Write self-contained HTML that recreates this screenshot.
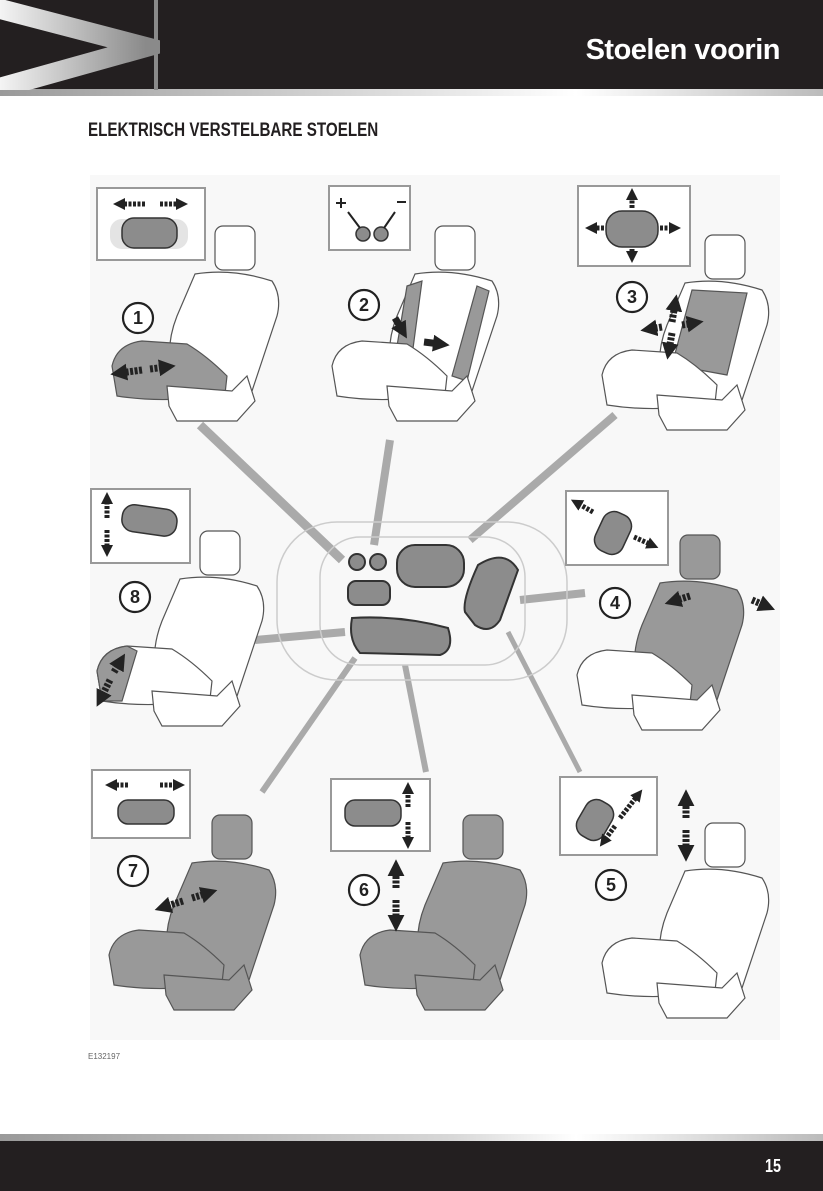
<!DOCTYPE html>
<html><head><meta charset="utf-8"><style>
html,body{margin:0;padding:0;background:#fff}
body{width:823px;height:1191px;position:relative;overflow:hidden;font-family:"Liberation Sans",sans-serif}
.abs{position:absolute}
</style></head><body>
<div class="abs" style="left:0;top:0;width:823px;height:89px;background:#231f20"></div>
<div class="abs" style="left:0;top:89px;width:823px;height:7px;background:linear-gradient(90deg,#9a9a9a,#e8e8e8 55%,#fff 70%,#bbb)"></div>
<svg class="abs" style="left:0;top:0" width="160" height="90">
<defs><linearGradient id="cg" x1="0" x2="1"><stop offset="0" stop-color="#fff"/><stop offset="1" stop-color="#8a8a8a"/></linearGradient></defs>
<polyline points="-15,5 146,47 -15,92" fill="none" stroke="url(#cg)" stroke-width="20"/>
<rect x="154" y="0" width="4" height="90" fill="#8a8a8a"/>
</svg>
<div class="abs" style="right:43px;top:34px;color:#fff;font-size:29px;font-weight:bold;letter-spacing:-0.5px">Stoelen voorin</div>
<div class="abs" style="left:88px;top:120px;font-size:19px;font-weight:bold;color:#231f20;transform:scaleX(0.8);transform-origin:left">ELEKTRISCH VERSTELBARE STOELEN</div>

<svg class="abs" style="left:0;top:0" width="823" height="1191">
<defs>
<marker id="ah" markerWidth="2.4" markerHeight="2.4" refX="1" refY="1.2" orient="auto" markerUnits="strokeWidth"><path d="M0,0 L2.4,1.2 L0,2.4 Z" fill="#222"/></marker>
<g id="bk"><path d="M88,48 Q125,42 165,55 Q175,70 170,90 L145,165 Q130,180 115,172 L65,150 Q58,120 70,90 Z"/></g>
<g id="cu"><path d="M5,140 Q10,118 35,115 L80,118 Q100,130 120,150 L118,168 Q60,178 10,170 Z"/></g>
<g id="ba"><path d="M60,160 L125,165 L140,150 L148,175 L130,195 L70,195 L62,180 Z"/></g>
<g id="hd"><rect x="108" y="0" width="40" height="44" rx="8"/></g>
</defs>
<rect x="90" y="175" width="690" height="865" fill="#f8f8f8"/>
<g stroke="#aaa" stroke-linecap="butt">
<line x1="200" y1="425" x2="342" y2="560" stroke-width="9"/>
<line x1="390" y1="440" x2="374" y2="545" stroke-width="8"/>
<line x1="615" y1="415" x2="470" y2="540" stroke-width="8"/>
<line x1="255" y1="640" x2="345" y2="632" stroke-width="8"/>
<line x1="585" y1="593" x2="520" y2="600" stroke-width="8"/>
<line x1="262" y1="792" x2="355" y2="658" stroke-width="6"/>
<line x1="405" y1="665" x2="426" y2="772" stroke-width="6"/>
<line x1="508" y1="632" x2="580" y2="772" stroke-width="5"/>
</g>
<rect x="277" y="522" width="290" height="158" rx="60" fill="none" stroke="#ccc" stroke-width="1.5"/>
<rect x="320" y="537" width="205" height="128" rx="40" fill="none" stroke="#ccc" stroke-width="1.5"/>
<g fill="#8c8c8c" stroke="#333" stroke-width="2">
<circle cx="357" cy="562" r="8"/><circle cx="378" cy="562" r="8"/>
<rect x="397" y="545" width="67" height="42" rx="18"/>
<rect x="348" y="581" width="42" height="24" rx="8"/>
<path d="M352,618 Q400,615 448,628 Q455,650 440,655 L360,653 Q348,640 352,618 Z"/>
<path d="M478,565 Q505,548 518,570 L500,620 Q490,635 475,625 L465,612 Q462,600 478,565 Z"/>
</g>
<g fill="#fff" stroke="#999" stroke-width="2">
<rect x="97" y="188" width="108" height="72"/>
<rect x="329" y="186" width="81" height="64"/>
<rect x="578" y="186" width="112" height="80"/>
<rect x="91" y="489" width="99" height="74"/>
<rect x="566" y="491" width="102" height="74"/>
<rect x="92" y="770" width="98" height="68"/>
<rect x="331" y="779" width="99" height="72"/>
<rect x="560" y="777" width="97" height="78"/>
</g>
<g stroke="#333" stroke-width="1.5" fill="#8c8c8c">
<rect x="110" y="219" width="78" height="30" rx="12" fill="#e4e4e4" stroke="none"/>
<rect x="122" y="218" width="55" height="30" rx="12"/>
<circle cx="363" cy="234" r="7"/><circle cx="381" cy="234" r="7"/>
<rect x="606" y="211" width="52" height="36" rx="16"/>
<rect x="122" y="507" width="55" height="27" rx="12" transform="rotate(8 150 520)"/>
<rect x="598" y="512" width="30" height="42" rx="12" transform="rotate(25 613 533)"/>
<rect x="118" y="800" width="56" height="24" rx="10"/>
<rect x="345" y="800" width="56" height="26" rx="10"/>
<rect x="580" y="800" width="30" height="40" rx="12" transform="rotate(30 595 820)"/>
</g>
<g stroke="#222" stroke-width="5" fill="none" marker-end="url(#ah)" stroke-dasharray="3,1.5">
<line x1="145" y1="204" x2="120" y2="204"/><line x1="160" y1="204" x2="181" y2="204"/>
<line x1="632" y1="208" x2="632" y2="195"/><line x1="632" y1="249" x2="632" y2="256"/>
<line x1="604" y1="228" x2="592" y2="228"/><line x1="660" y1="228" x2="674" y2="228"/>
<line x1="107" y1="518" x2="107" y2="499"/><line x1="107" y1="530" x2="107" y2="550"/>
<line x1="593" y1="512" x2="577" y2="503"/><line x1="634" y1="537" x2="652" y2="545"/>
<line x1="128" y1="785" x2="112" y2="785"/><line x1="160" y1="785" x2="178" y2="785"/>
<line x1="408" y1="807" x2="408" y2="789"/><line x1="408" y1="822" x2="408" y2="842"/>
<line x1="620" y1="818" x2="638" y2="795"/><line x1="615" y1="826" x2="604" y2="841"/>
</g>
<g stroke="#222" stroke-width="2"><line x1="336" y1="203" x2="346" y2="203"/><line x1="341" y1="198" x2="341" y2="208"/><line x1="397" y1="202" x2="406" y2="202"/><line x1="348" y1="212" x2="360" y2="228"/><line x1="395" y1="212" x2="384" y2="228"/></g>
<g stroke="#555" stroke-width="1.2">
<g transform="translate(107,226)" fill="#fff"><use href="#hd"/><use href="#bk"/><use href="#cu" fill="#999"/><use href="#ba"/></g>
<g transform="translate(327,226)" fill="#fff"><use href="#hd"/><use href="#bk"/><path d="M80,60 L95,55 L85,130 L70,120 Z M150,60 L162,65 L140,155 L125,150Z" fill="#999"/><use href="#cu"/><use href="#ba"/></g>
<g transform="translate(597,235)" fill="#fff"><use href="#hd"/><use href="#bk"/><path d="M95,55 L150,58 L130,140 L75,130 Z" fill="#999"/><use href="#cu"/><use href="#ba"/></g>
<g transform="translate(92,531)" fill="#fff"><use href="#hd"/><use href="#bk"/><use href="#cu"/><path d="M5,140 Q10,118 35,115 L45,120 L30,170 L10,170Z" fill="#999"/><use href="#ba"/></g>
<g transform="translate(572,535)" fill="#fff"><use href="#hd" fill="#999"/><use href="#bk" fill="#999"/><use href="#cu"/><use href="#ba"/></g>
<g transform="translate(104,815)" fill="#999"><use href="#hd"/><use href="#bk"/><use href="#cu"/><use href="#ba"/></g>
<g transform="translate(355,815)" fill="#999"><use href="#hd"/><use href="#bk"/><use href="#cu"/><use href="#ba"/></g>
<g transform="translate(597,823)" fill="#fff"><use href="#hd"/><use href="#bk"/><use href="#cu"/><use href="#ba"/></g>
</g>
<g stroke="#222" stroke-width="7" fill="none" marker-end="url(#ah)" stroke-dasharray="3,1.5">
<line x1="142" y1="370" x2="120" y2="373"/><line x1="150" y1="369" x2="166" y2="367"/>
<line x1="424" y1="342" x2="440" y2="344" stroke-dasharray="none"/><line x1="395" y1="318" x2="402" y2="330" stroke-dasharray="none"/>
<line x1="672" y1="322" x2="675" y2="304"/><line x1="672" y1="333" x2="669" y2="350"/><line x1="662" y1="327" x2="650" y2="329"/><line x1="682" y1="325" x2="694" y2="323"/>
<line x1="110" y1="680" x2="101" y2="698"/><line x1="114" y1="672" x2="120" y2="662"/>
<line x1="690" y1="596" x2="674" y2="601"/><line x1="752" y1="600" x2="766" y2="606"/>
<line x1="183" y1="901" x2="164" y2="907"/><line x1="192" y1="898" x2="208" y2="893"/>
<line x1="396" y1="888" x2="396" y2="869"/><line x1="396" y1="900" x2="396" y2="922"/>
<line x1="686" y1="818" x2="686" y2="799"/><line x1="686" y1="830" x2="686" y2="852"/>
</g>
<g fill="#fff" stroke="#222" stroke-width="2.2">
<circle cx="138" cy="318" r="15"/><circle cx="364" cy="305" r="15"/><circle cx="632" cy="297" r="15"/>
<circle cx="135" cy="597" r="15"/><circle cx="615" cy="603" r="15"/>
<circle cx="133" cy="871" r="15"/><circle cx="364" cy="890" r="15"/><circle cx="611" cy="885" r="15"/>
</g>
<g font-family="Liberation Sans" font-weight="bold" font-size="18" text-anchor="middle" fill="#222">
<text x="138" y="324">1</text><text x="364" y="311">2</text><text x="632" y="303">3</text>
<text x="135" y="603">8</text><text x="615" y="609">4</text>
<text x="133" y="877">7</text><text x="364" y="896">6</text><text x="611" y="891">5</text>
</g>
<text x="88" y="1059" font-size="8" fill="#666" font-family="Liberation Sans">E132197</text>
</svg>

<div class="abs" style="left:0;top:1134px;width:823px;height:7px;background:linear-gradient(90deg,#9a9a9a,#d8d8d8 55%,#fff 70%,#bbb)"></div>
<div class="abs" style="left:0;top:1141px;width:823px;height:50px;background:#231f20"></div>
<div class="abs" style="left:763px;top:1156px;color:#fff;font-size:18px;font-weight:bold;transform:scaleX(0.8)">15</div>
</body></html>
